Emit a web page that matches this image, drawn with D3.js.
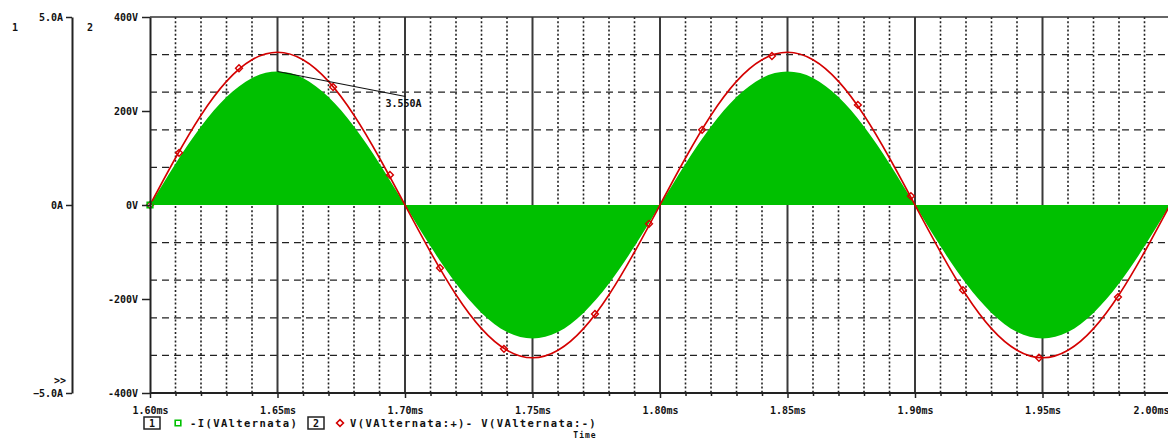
<!DOCTYPE html>
<html>
<head>
<meta charset="utf-8">
<script src="https://cdn.jsdelivr.net/npm/d3@7"></script>
<style>
  html, body { margin: 0; padding: 0; background: #fff; overflow: hidden; }
  svg { display: block; }
  text { font-family: "DejaVu Sans Mono", monospace; font-weight: bold; fill: #111; }
</style>
</head>
<body>
<svg id="chart" width="1168" height="439"></svg>
<script>
// Transient simulation samples, one every 10 µs
const timeMs = [1.60, 1.61, 1.62, 1.63, 1.64, 1.65, 1.66, 1.67, 1.68, 1.69, 1.70,
                1.71, 1.72, 1.73, 1.74, 1.75, 1.76, 1.77, 1.78, 1.79, 1.80,
                1.81, 1.82, 1.83, 1.84, 1.85, 1.86, 1.87, 1.88, 1.89, 1.90,
                1.91, 1.92, 1.93, 1.94, 1.95, 1.96, 1.97, 1.98, 1.99, 2.00];
// V(VAlternata:+) - V(VAlternata:-), volts
const voltage = [0, 100, 191, 263, 309, 325, 309, 263, 191, 100, 0,
                 -100, -191, -263, -309, -325, -309, -263, -191, -100, 0,
                 100, 191, 263, 309, 325, 309, 263, 191, 100, 0,
                 -100, -191, -263, -309, -325, -309, -263, -191, -100, 0];
// -I(VAlternata), amperes
const current = [0, 1.10, 2.09, 2.87, 3.38, 3.55, 3.38, 2.87, 2.09, 1.10, 0,
                 -1.10, -2.09, -2.87, -3.38, -3.55, -3.38, -2.87, -2.09, -1.10, 0,
                 1.10, 2.09, 2.87, 3.38, 3.55, 3.38, 2.87, 2.09, 1.10, 0,
                 -1.10, -2.09, -2.87, -3.38, -3.55, -3.38, -2.87, -2.09, -1.10, 0];

// Trace symbols
const voltMarkerTimes  = [1.6000, 1.6114, 1.6349, 1.6718, 1.6941, 1.7137, 1.7388, 1.7745,
                          1.7957, 1.8165, 1.8439, 1.8776, 1.8984, 1.9188, 1.9486, 1.9796];
const voltMarkerValues = [0, 111, 291, 251, 64, -134, -306, -232,
                          -40, 160, 317, 213, 19, -181, -325, -196];
const currMarkerTimes  = [1.60];
const currMarkerValues = [0];

// Axes
const timeTicks      = [1.60, 1.65, 1.70, 1.75, 1.80, 1.85, 1.90, 1.95, 2.00];
const timeMinorTicks = [1.61, 1.62, 1.63, 1.64, 1.66, 1.67, 1.68, 1.69, 1.71, 1.72, 1.73, 1.74,
                        1.76, 1.77, 1.78, 1.79, 1.81, 1.82, 1.83, 1.84, 1.86, 1.87, 1.88, 1.89,
                        1.91, 1.92, 1.93, 1.94, 1.96, 1.97, 1.98, 1.99];
const voltTicks  = [400, 200, 0, -200, -400];
const voltGrid   = [320, 240, 160, 80, -80, -160, -240, -320];
const currTicks  = [5, 0, -5];
const peakCurrent = { t: 1.65, value: 3.55 };

const legendItems = [
  { id: "1", label: "-I(VAlternata)", color: "#00c000", symbol: "square" },
  { id: "2", label: "V(VAlternata:+)- V(VAlternata:-)", color: "#d40000", symbol: "diamond" }
];

const svg = d3.select("#chart");
const plotLeft = 150, plotRight = 1170, plotTop = 17, plotBottom = 393;

const x  = d3.scaleLinear().domain([1.60, 2.00]).range([plotLeft, plotRight]);
const yV = d3.scaleLinear().domain([-400, 400]).range([plotBottom, plotTop]);
const yI = d3.scaleLinear().domain([-5, 5]).range([plotBottom, plotTop]);

const GREEN = "#00c000", RED = "#d40000", GRID = "#222";

// ---- grid ----
const grid = svg.append("g");
grid.selectAll("line.vminor").data(timeMinorTicks).join("line")
  .attr("x1", d => x(d)).attr("x2", d => x(d))
  .attr("y1", plotTop).attr("y2", plotBottom)
  .attr("stroke", GRID).attr("stroke-width", 1.6).attr("stroke-dasharray", "2 2.2");
grid.selectAll("line.h").data(voltGrid).join("line")
  .attr("x1", plotLeft).attr("x2", 1168)
  .attr("y1", d => yV(d)).attr("y2", d => yV(d))
  .attr("stroke", GRID).attr("stroke-width", 1.3).attr("stroke-dasharray", "7 5");
grid.selectAll("line.vmajor").data(timeTicks.slice(1)).join("line")
  .attr("x1", d => x(d)).attr("x2", d => x(d))
  .attr("y1", plotTop).attr("y2", plotBottom)
  .attr("stroke", "#3a3a3a").attr("stroke-width", 2);

// ---- current trace (filled) ----
const rows = timeMs.map((t, i) => ({ t, v: voltage[i], i: current[i] }));
svg.append("path").datum(rows)
  .attr("fill", GREEN)
  .attr("d", d3.area().curve(d3.curveNatural)
    .x(d => x(d.t)).y0(yI(0)).y1(d => yI(d.i)));

// ---- voltage trace ----
svg.append("path").datum(rows)
  .attr("fill", "none").attr("stroke", RED).attr("stroke-width", 1.6)
  .attr("d", d3.line().curve(d3.curveNatural).x(d => x(d.t)).y(d => yV(d.v)));

const diamond = d3.symbol().type(d3.symbolDiamond2).size(30);
const square = d3.symbol().type(d3.symbolSquare2).size(40);

svg.selectAll("path.vm").data(voltMarkerTimes).join("path")
  .attr("d", diamond)
  .attr("transform", (d, k) => `translate(${x(d)},${yV(voltMarkerValues[k])})`)
  .attr("fill", "none").attr("stroke", RED).attr("stroke-width", 1.4);
svg.selectAll("path.im").data(currMarkerTimes).join("path")
  .attr("d", square)
  .attr("transform", (d, k) => `translate(${x(d)},${yI(currMarkerValues[k])})`)
  .attr("fill", "none").attr("stroke", GREEN).attr("stroke-width", 1.6);

// ---- frame ----
svg.append("line").attr("x1", plotLeft).attr("x2", 1168).attr("y1", plotTop).attr("y2", plotTop)
  .attr("stroke", "#333").attr("stroke-width", 1.6);

// ---- axes ----
const styleAxis = g => {
  g.selectAll(".domain").attr("stroke", "#222").attr("stroke-width", 2);
  g.selectAll(".tick line").attr("stroke", "#222").attr("stroke-width", 1.5);
  g.selectAll("text").attr("font-size", 10).attr("fill", "#111")
    .attr("font-family", '"DejaVu Sans Mono", monospace').attr("font-weight", "bold");
};

const axV = svg.append("g").attr("transform", `translate(${plotLeft},0)`)
  .call(d3.axisLeft(yV).tickValues(voltTicks).tickSize(8).tickSizeOuter(0)
    .tickFormat(d => d + "V"));
styleAxis(axV);
axV.selectAll("text").attr("dx", "-1");

const axI = svg.append("g").attr("transform", `translate(72,0)`)
  .call(d3.axisLeft(yI).tickValues(currTicks).tickSize(6).tickSizeOuter(0)
    .tickFormat(d => d === 0 ? "0A" : d3.format(".1f")(d) + "A"));
styleAxis(axI);

const axT = svg.append("g").attr("transform", `translate(0,${plotBottom})`)
  .call(d3.axisBottom(x).tickValues(timeTicks).tickSize(5).tickSizeOuter(0)
    .tickFormat(d => d3.format(".2f")(d) + "ms"));
styleAxis(axT);
axT.selectAll("text").attr("dy", "1.3em");
axT.select(".domain").attr("d", `M${plotLeft},0H1168`);
// last label is pulled inside the window
axT.selectAll(".tick").filter(d => d === 2.00).select("text")
  .attr("text-anchor", "end").attr("dx", -1);

const axTm = svg.append("g").attr("transform", `translate(0,${plotBottom})`)
  .call(d3.axisBottom(x).tickValues(timeMinorTicks).tickSize(3).tickFormat(""));
axTm.select(".domain").remove();
axTm.selectAll(".tick line").attr("stroke", "#222").attr("stroke-width", 1.5);

// axis numbers and selection mark
svg.append("text").attr("x", 12).attr("y", 31).attr("font-size", 10).text("1");
svg.append("text").attr("x", 87).attr("y", 31).attr("font-size", 10).text("2");
svg.append("text").attr("x", 66).attr("y", 384).attr("font-size", 10)
  .attr("text-anchor", "end").text(">>");

// ---- peak annotation ----
const px = x(peakCurrent.t), py = yI(peakCurrent.value);
svg.append("line").attr("x1", px).attr("y1", py).attr("x2", px + 128).attr("y2", py + 25)
  .attr("stroke", "#111").attr("stroke-width", 1.1);
svg.append("text").attr("x", px + 108).attr("y", py + 35).attr("font-size", 10)
  .text(d3.format(".3f")(peakCurrent.value) + "A");

// ---- legend ----
const legend = svg.append("g").attr("transform", "translate(0,423)");
const legendX = [144, 308];
legendItems.forEach((it, k) => {
  const g = legend.append("g").attr("transform", `translate(${legendX[k]},0)`);
  g.append("rect").attr("x", 0).attr("y", -6).attr("width", 16).attr("height", 12)
    .attr("fill", "#fff").attr("stroke", "#222").attr("stroke-width", 1.5);
  g.append("text").attr("x", 8).attr("y", 4).attr("text-anchor", "middle")
    .attr("font-size", 10).text(it.id);
  g.append("path")
    .attr("d", (it.symbol === "square" ? square : diamond)())
    .attr("transform", `translate(${it.symbol === "square" ? 34 : 32},0)`)
    .attr("fill", "none").attr("stroke", it.color).attr("stroke-width", 1.6);
  g.append("text").attr("x", it.symbol === "square" ? 46 : 42).attr("y", 4)
    .attr("font-size", 10.5).attr("letter-spacing", 1.4).text(it.label);
});

// x-axis title
svg.append("text").attr("x", 585).attr("y", 438).attr("text-anchor", "middle")
  .attr("font-size", 8).attr("letter-spacing", 1).text("Time");
</script>
</body>
</html>
